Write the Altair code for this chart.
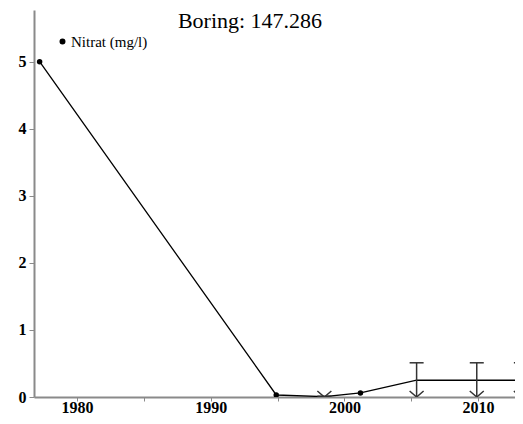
import altair as alt
import pandas as pd

# ---- data ----
years = [1977.2, 1994.9, 1998.5, 2001.2, 2005.4, 2009.9, 2013.2]
nitrate = [5.0, 0.03, 0.005, 0.06, 0.25, 0.25, 0.25]
below_limit = [False, False, True, False, True, True, True]
limit_top = [5.0, 0.03, 0.012, 0.06, 0.51, 0.51, 0.51]
series_name = "Nitrat (mg/l)"
title_text = "Boring: 147.286"

df = pd.DataFrame({
    "year": years,
    "value": nitrate,
    "below": below_limit,
    "top": limit_top,
    "zero": [0.0] * len(years),
    "series": [series_name] * len(years),
})
measured = df[~df["below"]]
bdl = df[df["below"]]

axis_color = "#8a8a8a"
font_axis = "Liberation Serif"

xscale = alt.Scale(domain=[1976.78, 2012.76], nice=False, zero=False)
yscale = alt.Scale(domain=[0, 5.77], nice=False)

x_axis = alt.Axis(
    values=[1980, 1985, 1990, 1995, 2000, 2005, 2010],
    labelExpr="datum.value % 10 == 0 ? datum.label : ''",
    format="d", title=None, grid=False,
    labelFont=font_axis, labelFontWeight="bold", labelFontSize=16,
    labelColor="black", domainColor=axis_color, domainWidth=2,
    tickColor=axis_color, tickSize=4, labelPadding=11, labelBaseline="alphabetic",
)
y_axis = alt.Axis(
    values=[0, 1, 2, 3, 4, 5], format="d", title=None, grid=False,
    labelFont=font_axis, labelFontWeight="bold", labelFontSize=16,
    labelColor="black", domainColor=axis_color, domainWidth=2,
    tickColor=axis_color, tickSize=5, labelPadding=3,
)

X = alt.X("year:Q", scale=xscale, axis=x_axis)
Y = alt.Y("value:Q", scale=yscale, axis=y_axis)

line = alt.Chart(df).mark_line(color="black", strokeWidth=1.3, clip=True).encode(x=X, y=Y)

dots = alt.Chart(measured).mark_point(filled=True, size=30, opacity=1, clip=True).encode(
    x=alt.X("year:Q", scale=xscale),
    y=alt.Y("value:Q", scale=yscale),
    color=alt.Color(
        "series:N",
        scale=alt.Scale(domain=[series_name], range=["black"]),
        legend=alt.Legend(
            orient="none", legendX=21, legendY=24, title=None, padding=0,
            labelFont="Liberation Serif", labelFontSize=15, labelColor="black",
            symbolType="circle", symbolSize=20, symbolFillColor="black",
            symbolStrokeColor="black", labelOffset=1,
        ),
    ),
)

rules = alt.Chart(bdl).mark_rule(color="#333333", strokeWidth=1.5, clip=True).encode(
    x=alt.X("year:Q", scale=xscale),
    y=alt.Y("zero:Q", scale=yscale),
    y2="top:Q",
)

caps = alt.Chart(bdl).mark_point(
    shape="M-1,0L1,0", size=196, filled=False, color="#333333", strokeWidth=1.5,
    opacity=1, clip=True,
).encode(x=alt.X("year:Q", scale=xscale), y=alt.Y("top:Q", scale=yscale))

arrows = alt.Chart(bdl).mark_point(
    shape="M-1,-0.85L0,0L1,-0.85", size=196, filled=False, color="#333333",
    strokeWidth=1.5, opacity=1, clip=True,
).encode(x=alt.X("year:Q", scale=xscale), y=alt.Y("zero:Q", scale=yscale))

title = alt.Chart(pd.DataFrame({"t": [title_text]})).mark_text(
    font="Liberation Serif", fontSize=22, color="black", baseline="alphabetic", align="center",
).encode(text="t:N", x=alt.value(216), y=alt.value(18))

chart = alt.layer(line, rules, caps, arrows, dots, title).properties(
    width=481, height=387,
    autosize=alt.AutoSizeParams(type="none"),
    padding={"left": 26, "top": 2, "right": 0, "bottom": 19},
).configure_view(stroke=None)

chart.save("out.html", embed_options={"renderer": "svg", "actions": False})
